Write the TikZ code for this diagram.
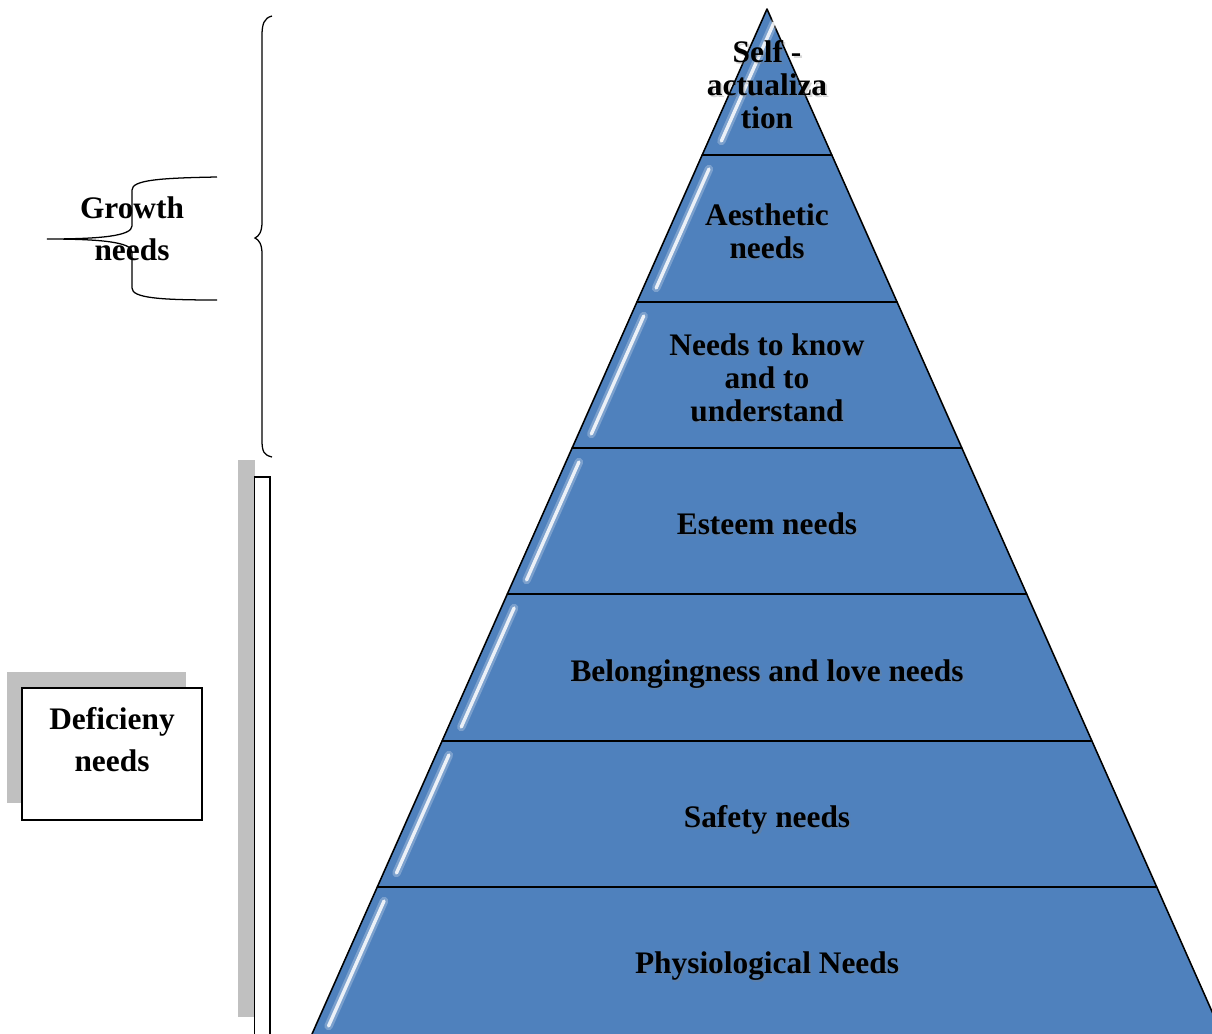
\documentclass[tikz,border=0pt]{standalone}
\usepackage{fontspec}
\setmainfont{Liberation Serif}
\definecolor{lvlblue}{RGB}{79,129,189}
\definecolor{shgray}{RGB}{192,192,192}
\begin{document}
\begin{tikzpicture}[x=0.025cm,y=-0.025cm,
  lvltext/.style={font=\bfseries\fontsize{22.3}{23.4}\selectfont, align=center, text=black},
  sidetext/.style={font=\bfseries\fontsize{22.3}{29.8}\selectfont, align=center, text=black},
  lvlshape/.style={fill=lvlblue, draw=black, line width=1.1pt, line join=round},
  gloss/.style={white, line cap=round},
  bracestyle/.style={draw=black, line width=0.9pt}
]
\useasboundingbox (0,0) rectangle (1212,1034);
\begin{scope}
\clip (0,0) rectangle (1212,1034);
\foreach \t/\b in {9/155,155/302,302/448,448/594,594/741,741/887,887/1040}{
  \pgfmathsetmacro\lt{767-0.4439*(\t-9)}
  \pgfmathsetmacro\rt{767+0.4439*(\t-9)}
  \pgfmathsetmacro\lb{767-0.4439*(\b-9)}
  \pgfmathsetmacro\rb{767+0.4439*(\b-9)}
  \path[lvlshape] (\lt,\t) -- (\rt,\t) -- (\rb,\b) -- (\lb,\b) -- cycle;
  % gloss stripe along the left edge
  \pgfmathsetmacro\ya{\b-14}
  \pgfmathsetmacro\yb{\t+14}
  \pgfmathsetmacro\xa{767-0.4439*(\ya-9)+13}
  \pgfmathsetmacro\xb{767-0.4439*(\yb-9)+13}
  \draw[gloss, line width=6pt, opacity=0.25] (\xa,\ya) -- (\xb,\yb);
  \draw[gloss, line width=2.4pt, opacity=0.85] (\xa,\ya) -- (\xb,\yb);
}
\end{scope}

% pyramid labels with subtle shadow
\foreach \nm/\y/\txt in {sa/85/{Self -\\actualiza\\tion}, ae/231/{Aesthetic\\needs}, kn/378/{Needs to know\\and to\\understand}, es/524/{Esteem needs}, be/674/{Belongingness and love needs}, sf/820/{Safety needs}, ph/966/{Physiological Needs}}{
  \node[lvltext, text=black!50, opacity=0.3] at (769,\y+2) {\txt};
  \node[lvltext] (\nm) at (767,\y) {\txt};
}

% big brace (growth)
\draw[bracestyle] (272,16) .. controls (264,18) and (262,24) .. (262,36)
  -- (262,222) .. controls (262,232) and (259,236) .. (255,238)
  .. controls (259,240) and (262,244) .. (262,254)
  -- (262,440) .. controls (262,452) and (264,455) .. (272,457);

% small brace
\draw[bracestyle] (217,177) .. controls (160,178) and (132,180) .. (132,190)
  -- (132,226) .. controls (132,236) and (100,239) .. (47,239)
  .. controls (100,239) and (132,242) .. (132,252)
  -- (132,288) .. controls (132,298) and (160,300) .. (217,300);
\node[sidetext] (growth) at (132,229) {Growth\\needs};

% deficiency bar
\fill[shgray] (238,460) rectangle (255,1017);
\draw[fill=white, line width=0.9pt] (254.5,477) rectangle (270,1040);

% deficiency box
\fill[shgray] (7,672) rectangle (186,803);
\draw[fill=white, line width=0.9pt] (22,688) rectangle (202,820);
\node[sidetext] (defic) at (112,740) {Deficieny\\needs};
\end{tikzpicture}
\end{document}
